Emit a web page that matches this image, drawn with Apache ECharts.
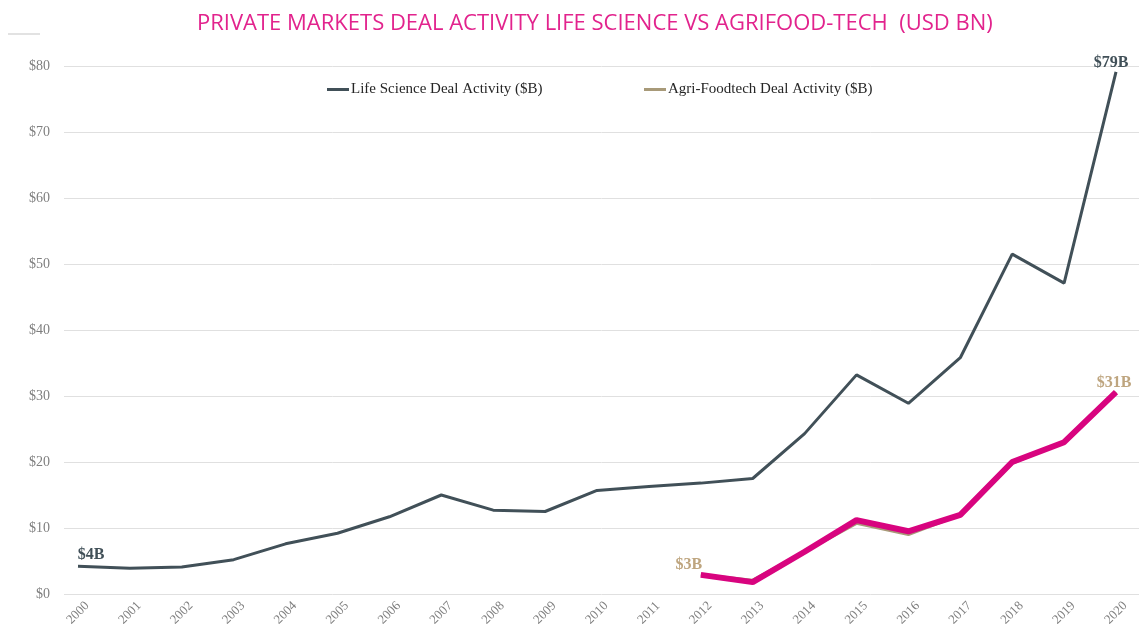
<!DOCTYPE html>
<html>
<head>
<meta charset="utf-8">
<script src="https://cdn.jsdelivr.net/npm/echarts@6/dist/echarts.min.js"></script>
<style>
  html, body { margin: 0; padding: 0; background: #fff; }
  #chart { width: 1139px; height: 631px; }
</style>
</head>
<body>
<div id="chart"></div>
<script>
const years = ["2000", "2001", "2002", "2003", "2004", "2005", "2006", "2007", "2008", "2009", "2010",
  "2011", "2012", "2013", "2014", "2015", "2016", "2017", "2018", "2019", "2020"]
const lifeScience = [4.2, 3.9, 4.1, 5.2, 7.6, 9.2, 11.7, 15.0, 12.7, 12.5, 15.7,
  16.3, 16.8, 17.5, 24.3, 33.2, 28.9, 35.8, 51.5, 47.1, 79.1]
const agriFoodtech = [null, null, null, null, null, null, null, null, null, null, null,
  null, 2.9, 2.1, 6.4, 10.7, 9.0, 12.0, 19.8, 23.0, 30.6]
const agriHighlight = [null, null, null, null, null, null, null, null, null, null, null,
  null, 2.9, 1.8, 6.4, 11.2, 9.5, 12.0, 20.0, 23.0, 30.6]
const yTicks = [0, 10, 20, 30, 40, 50, 60, 70, 80]

const lifeName = "Life Science Deal Activity ($B)"
const agriName = "Agri-Foodtech Deal Activity ($B)"

const slate = "#415058"
const tan = "#a89a79"
const tanText = "#bea57f"
const magenta = "#d8047f"
const serif = "'Liberation Serif', 'DejaVu Serif', serif"

const chart = echarts.init(document.getElementById("chart"))

// first and last point of a series get a "$xB" label
const withEndLabels = (values, color, firstLabel, lastLabel) => {
  const first = values.findIndex(v => v !== null)
  const last = values.length - 1
  return values.map((v, i) => {
    if (i === first) return { value: v, label: Object.assign({ show: true, color: color }, firstLabel) }
    if (i === last) return { value: v, label: Object.assign({ show: true, color: color }, lastLabel) }
    return v
  })
}

const labelFont = {
  fontFamily: serif,
  fontSize: 16,
  fontWeight: "bold",
  formatter: p => "$" + Math.round(p.value) + "B"
}

const legendText = { color: "#262626", fontFamily: serif, fontSize: 15, padding: [0, 0, 0, -3] }

const option = {
  animation: false,
  title: {
    text: "PRIVATE MARKETS DEAL ACTIVITY LIFE SCIENCE VS AGRIFOOD-TECH  (USD BN)",
    left: 192,
    top: 8,
    textStyle: {
      color: "#e2238d",
      fontFamily: "'Open Sans', sans-serif",
      fontSize: 22,
      fontWeight: "normal"
    }
  },
  graphic: [
    { type: "line", shape: { x1: 8, y1: 34, x2: 40, y2: 34 }, style: { stroke: "#d9d9d9", lineWidth: 1.5 } }
  ],
  legend: [
    {
      data: [lifeName],
      left: 322,
      top: 77,
      icon: "rect",
      itemWidth: 22,
      itemHeight: 3,
      textStyle: legendText
    },
    {
      data: [agriName],
      left: 639,
      top: 77,
      icon: "rect",
      itemWidth: 22,
      itemHeight: 3,
      textStyle: legendText
    }
  ],
  grid: [
    { left: 64, right: 0, top: 66, bottom: 37 },
    { left: 78, right: 23, top: 66, bottom: 37 }
  ],
  xAxis: [
    { type: "value", gridIndex: 0, show: false },
    {
      type: "category",
      gridIndex: 1,
      data: years,
      boundaryGap: false,
      axisLine: { show: false },
      axisTick: { show: false },
      axisLabel: {
        rotate: 45,
        margin: 19,
        align: "center",
        verticalAlign: "middle",
        color: "#7f7f7f",
        fontFamily: serif,
        fontSize: 13
      }
    }
  ],
  yAxis: [
    {
      type: "value",
      gridIndex: 0,
      min: yTicks[0],
      max: yTicks[yTicks.length - 1],
      interval: 10,
      axisLine: { show: false },
      axisTick: { show: false },
      axisLabel: {
        margin: 14,
        color: "#7f7f7f",
        fontFamily: serif,
        fontSize: 14,
        formatter: v => "$" + v
      },
      splitLine: { lineStyle: { color: "#e0e0e0", width: 1 } }
    },
    {
      type: "value",
      gridIndex: 1,
      min: yTicks[0],
      max: yTicks[yTicks.length - 1],
      show: false,
      splitLine: { show: false }
    }
  ],
  series: [
    {
      name: lifeName,
      type: "line",
      xAxisIndex: 1,
      yAxisIndex: 1,
      data: withEndLabels(lifeScience, slate,
        Object.assign({ position: "top", distance: 3, offset: [13, 0] }, labelFont),
        Object.assign({ position: "top", distance: 1, offset: [-5, 0] }, labelFont)),
      showSymbol: true,
      symbol: "circle",
      symbolSize: 0,
      lineStyle: { color: slate, width: 3 },
      itemStyle: { color: slate }
    },
    {
      name: agriName,
      type: "line",
      xAxisIndex: 1,
      yAxisIndex: 1,
      data: withEndLabels(agriFoodtech, tanText,
        Object.assign({ position: "top", distance: 2, offset: [-12, 0] }, labelFont),
        Object.assign({ position: "top", distance: 1, offset: [-2, 0] }, labelFont)),
      showSymbol: true,
      symbol: "circle",
      symbolSize: 0,
      lineStyle: { color: tan, width: 3 },
      itemStyle: { color: tan }
    },
    {
      name: "highlight",
      type: "line",
      xAxisIndex: 1,
      yAxisIndex: 1,
      data: agriHighlight,
      showSymbol: false,
      symbol: "none",
      z: 3,
      lineStyle: { color: magenta, width: 6 },
      itemStyle: { color: magenta }
    }
  ]
}

chart.setOption(option)
</script>
</body>
</html>
